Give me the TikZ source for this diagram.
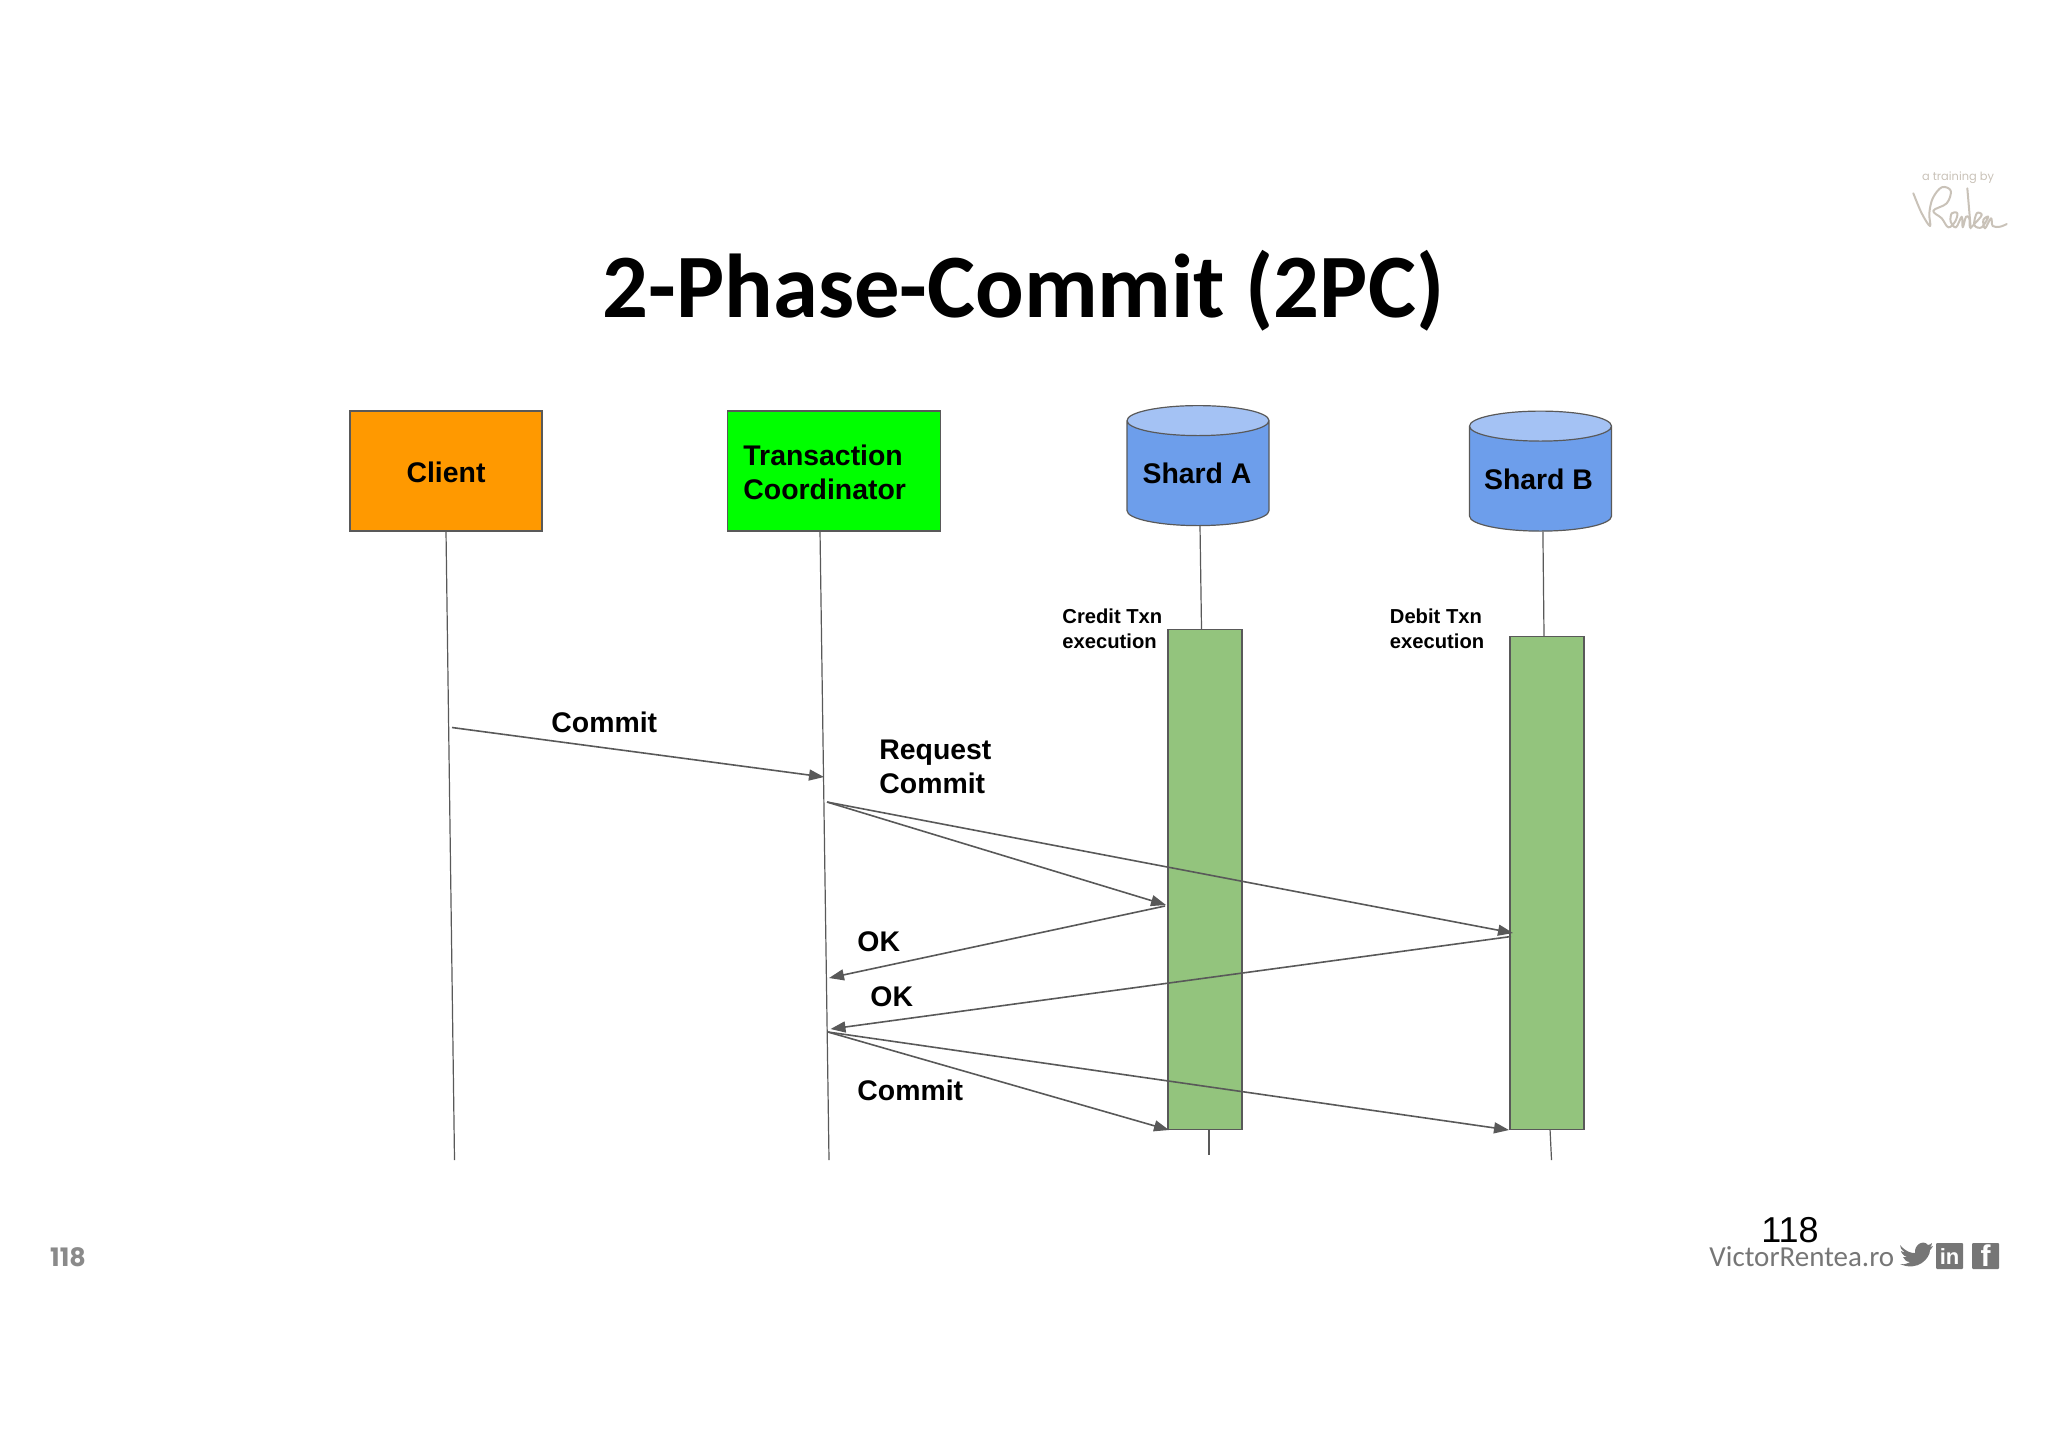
\documentclass[tikz,border=0pt]{standalone}
\usepackage{fontspec}
\setmainfont{Liberation Sans}
\newfontfamily\carlito{Carlito}
\newfontfamily\poppins{Poppins}
\usetikzlibrary{arrows.meta}
\usetikzlibrary{shapes.geometric}
\definecolor{lineGrey}{HTML}{595959}
\definecolor{clientOrange}{HTML}{FF9900}
\definecolor{coordGreen}{HTML}{00FF00}
\definecolor{shardBody}{HTML}{6D9EEB}
\definecolor{shardTop}{HTML}{A4C2F4}
\definecolor{txnGreen}{HTML}{93C47D}
\definecolor{footGrey}{HTML}{767676}
\definecolor{signTan}{HTML}{C9C2B8}
\tikzset{
    actor/.style={draw=lineGrey,line width=0.6pt,inner sep=0pt,minimum height=60pt},
    shard/.style={cylinder,shape border rotate=90,aspect=1,draw=lineGrey,line width=0.6pt,
        minimum width=71pt,minimum height=60pt,inner sep=7.5pt,
        cylinder uses custom fill,cylinder body fill=shardBody,cylinder end fill=shardTop},
    txn/.style={draw=lineGrey,fill=txnGreen,line width=0.6pt,minimum width=37pt,inner sep=0pt},
    life/.style={lineGrey,line width=0.6pt},
    msg/.style={lineGrey,line width=0.8pt,-{Triangle[length=7.5pt,width=5.5pt]}},
    lbl/.style={font=\bfseries\fontsize{14.2}{17}\selectfont,align=left,anchor=west,inner sep=0pt},
    note/.style={font=\bfseries\fontsize{10.1}{12.5}\selectfont,align=left,anchor=west,inner sep=0pt},
    iconbox/.style={fill=footGrey,rounded corners=0.5pt,minimum width=13.5pt,minimum height=13pt,inner sep=0pt,
        text=white,font=\bfseries\fontsize{11}{11}\selectfont}
}
\begin{document}
\begin{tikzpicture}[x=0.5pt,y=-0.5pt]
    \useasboundingbox (0,0) rectangle (2048,1448);

    \node[font=\carlito\bfseries\fontsize{45.3}{45.3}\selectfont,text=black] (title) at (1023.5,291) {2-Phase-Commit (2PC)};

    \node[actor,fill=clientOrange,minimum width=96pt] (client) at (446,471) {};
    \node[actor,fill=coordGreen,minimum width=106.5pt] (coord) at (834,471) {};
    \node[shard] (shardA) at (1198,478) {};
    \node[shard] (shardB) at (1540.5,483.5) {};
    \node[txn,minimum height=250pt] (txnA) at (1205,879.3) {};
    \node[txn,minimum height=246.5pt] (txnB) at (1547,883) {};

    \node[lbl,anchor=center] (clientText) at (446,472) {Client};
    \node[lbl] (coordText) at (743,472) {Transaction\\Coordinator};
    \node[lbl,anchor=center] (shardAText) at (1197,473) {Shard A};
    \node[lbl,anchor=center] (shardBText) at (1538.5,479) {Shard B};
    \node[note] (creditText) at (1062,628.5) {Credit Txn\\execution};
    \node[note] (debitText) at (1389.5,628.5) {Debit Txn\\execution};

    \coordinate (clientTop) at (446,531);
    \coordinate (clientEnd) at (454.5,1160);
    \coordinate (coordTop) at (820,531);
    \coordinate (coordEnd) at (829,1160);
    \coordinate (barATop) at (1201.5,629);
    \coordinate (barBTop) at (1544,636);
    \coordinate (barABot) at (1209,1129);
    \coordinate (barBBot) at (1550,1129);
    \coordinate (shardAEnd) at (1209,1154.5);
    \coordinate (shardBEnd) at (1551.5,1160);

    \draw[life] (clientTop) -- (clientEnd);
    \draw[life] (coordTop) -- (coordEnd);
    \draw[life] ([xshift=1pt]shardA.south) -- (barATop);
    \draw[life] ([xshift=1.2pt]shardB.south) -- (barBTop);
    \draw[life] (barABot) -- (shardAEnd);
    \draw[life] (barBBot) -- (shardBEnd);

    \coordinate (commitFrom) at (452,727.5);
    \coordinate (commitTo) at (824,777);
    \coordinate (reqFrom) at (827,802);
    \coordinate (reqA) at (1166,905);
    \coordinate (reqB) at (1513,933);
    \coordinate (okAFrom) at (1165,906);
    \coordinate (okATo) at (829,978);
    \coordinate (okBFrom) at (1511,936.5);
    \coordinate (okBTo) at (830.5,1029);
    \coordinate (doFrom) at (828,1032);
    \coordinate (doA) at (1169,1130);
    \coordinate (doB) at (1509,1130);

    \draw[msg] (commitFrom) -- (commitTo);
    \draw[msg] (reqFrom) -- (reqA);
    \draw[msg] (reqFrom) -- (reqB);
    \draw[msg] (okAFrom) -- (okATo);
    \draw[msg] (okBFrom) -- (okBTo);
    \draw[msg] (doFrom) -- (doA);
    \draw[msg] (doFrom) -- (doB);

    \node[lbl] (commitText) at (551,722.5) {Commit};
    \node[lbl] (requestText) at (879,766.5) {Request\\Commit};
    \node[lbl] (okAText) at (857,942) {OK};
    \node[lbl] (okBText) at (870,997) {OK};
    \node[lbl] (doText) at (857,1090) {Commit};

    \node[font=\poppins\bfseries\fontsize{12.7}{12.7}\selectfont,text=footGrey!85,inner sep=0pt] (pageLeft) at (68,1257) {118};
    \node[font=\fontsize{18}{18}\selectfont,text=black,inner sep=0pt] (pageRight) at (1790,1230) {118};
    \node[font=\carlito\fontsize{14.5}{14.5}\selectfont,text=footGrey,anchor=west,inner sep=0pt] (site) at (1709,1256.5) {VictorRentea.ro};

    \fill[footGrey] (1900,1245) .. controls (1906,1252) and (1911,1253) .. (1915,1253)
        .. controls (1914,1245) and (1923,1239) .. (1928,1245)
        .. controls (1929,1245) and (1931,1244) .. (1932,1243)
        .. controls (1932,1245) and (1931,1246) .. (1930,1247)
        .. controls (1931,1247) and (1932,1247) .. (1933,1246)
        .. controls (1932,1248) and (1931,1249) .. (1930,1250)
        .. controls (1930,1258) and (1918,1272) .. (1900,1264)
        .. controls (1905,1265) and (1908,1263) .. (1910,1262)
        .. controls (1906,1262) and (1904,1259) .. (1903,1257)
        .. controls (1904,1257) and (1906,1257) .. (1907,1257)
        .. controls (1903,1256) and (1901,1252) .. (1901,1251)
        .. controls (1902,1252) and (1904,1252) .. (1905,1252)
        .. controls (1901,1250) and (1900,1247) .. (1900,1245) -- cycle;
    \node[iconbox] (linkedin) at (1949.5,1256) {in};
    \node[iconbox,font=\bfseries\fontsize{15}{15}\selectfont] (facebook) at (1985.5,1256) {f};

    \node[font=\poppins\fontsize{5.7}{5.7}\selectfont,text=signTan] (trainingBy) at (1958,178) {a training by};
    \draw[signTan,line width=1pt,line cap=round,line join=round] plot[smooth,tension=0.6] coordinates {
        (1913.3,193.3) (1921.7,213.3) (1930,226) (1929.3,213.3) (1932.7,198.3) (1941.7,187.3)
        (1950.7,190.7) (1946.7,203.3) (1933.3,210.7) (1941.7,218.3) (1948.3,227.3) (1955,221.7)
        (1957.3,213.3) (1951.7,213.3) (1950.7,221.7) (1956,227.3) (1961.7,216.7) (1962.7,227.3)
        (1966,216.7) (1969.3,218.3) (1970,227.3) (1974.3,224) (1981.7,215) (1976.7,213.3)
        (1974.3,225) (1981.7,227.3) (1988.3,216.7) (1983.3,220) (1985,228.3) (1991,218.3)
        (1992.7,226) (2000,226.7) (2006.7,224)};
    \draw[signTan,line width=1pt,line cap=round] (1967.3,188.3) -- (1970.7,228.3);
\end{tikzpicture}
\end{document}
